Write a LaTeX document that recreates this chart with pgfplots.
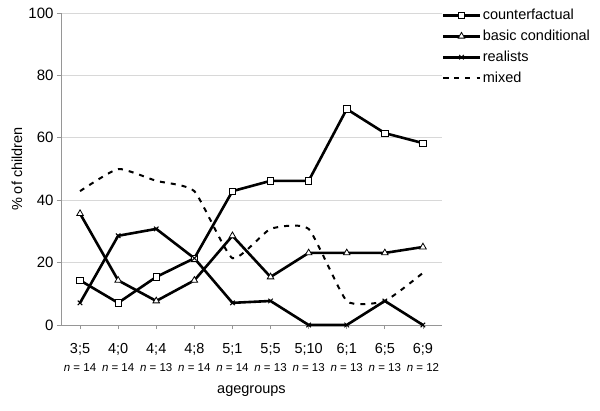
\documentclass[border=0pt]{standalone}
\usepackage{fontspec}
\setmainfont{Liberation Sans}
\usepackage{pgfplots}
\pgfplotsset{compat=1.18}
\definecolor{gridgray}{RGB}{216,216,216}
\definecolor{axisgray}{RGB}{150,150,150}
\newcommand{\nsz}[1]{{\fontsize{11.5}{13}\selectfont\textit{n} = #1}}

\begin{document}
\begin{tikzpicture}
\begin{axis}[
  scale only axis, width=381pt, height=312pt,
  xmin=-0.5, xmax=9.5, ymin=0, ymax=100,
  axis lines=left, axis line style={axisgray, line width=0.8pt, -},
  xtick={0,...,9}, ytick={0,20,...,100},
  xticklabels={{3;5\\\nsz{14}},{4;0\\\nsz{14}},{4;4\\\nsz{13}},{4;8\\\nsz{14}},{5;1\\\nsz{14}},
               {5;5\\\nsz{13}},{5;10\\\nsz{13}},{6;1\\\nsz{13}},{6;5\\\nsz{13}},{6;9\\\nsz{12}}},
  xticklabel style={align=center, font=\fontsize{14.5}{18}\selectfont, yshift=-11pt},
  yticklabel style={font=\fontsize{15}{17}\selectfont},
  /pgf/number format/assume math mode=true,
  ymajorgrids, grid style={gridgray, line width=0.8pt},
  tick style={axisgray, line width=0.8pt}, tick align=outside, major tick length=4pt,
  xlabel={agegroups}, ylabel={\% of children},
  every axis x label/.style={at={(rel axis cs:0.5,0)}, anchor=center, yshift=-66pt,
    font=\fontsize{14.5}{17}\selectfont},
  every axis y label/.style={at={(rel axis cs:0,0.5)}, anchor=center, rotate=90, yshift=44pt,
    font=\fontsize{14.5}{17}\selectfont},
  legend style={at={(rel axis cs:1,1)}, anchor=north west, xshift=0pt, yshift=6pt,
    draw=none, fill=none, font=\fontsize{14.5}{17}\selectfont, inner sep=0pt, row sep=5pt,
    cells={anchor=west}},
  legend image code/.code={\draw[mark repeat=2,mark phase=2,#1] plot coordinates {(0pt,0pt) (18pt,0pt) (36pt,0pt)};},
  clip=false,
]
\addplot[black, line width=2.6pt, mark=square*, mark size=3.2pt,
  mark options={solid, fill=white, line width=0.8pt}]
  coordinates {(0,14.3) (1,7.1) (2,15.4) (3,21.4) (4,42.9) (5,46.2) (6,46.2) (7,69.2) (8,61.5) (9,58.3)};
\addlegendentry{counterfactual}
\addplot[black, line width=2.6pt, mark=triangle*, mark size=3.8pt,
  mark options={solid, fill=white, line width=0.8pt}]
  coordinates {(0,35.7) (1,14.3) (2,7.7) (3,14.3) (4,28.6) (5,15.4) (6,23.1) (7,23.1) (8,23.1) (9,25.0)};
\addlegendentry{basic conditional}
\addplot[black, line width=2.6pt, mark=x, mark size=3.2pt,
  mark options={solid, line width=1pt}]
  coordinates {(0,7.1) (1,28.6) (2,30.8) (3,21.4) (4,7.1) (5,7.7) (6,0) (7,0) (8,7.7) (9,0)};
\addlegendentry{realists}
\addplot[black, line width=2pt, dash pattern=on 5pt off 6pt, smooth, tension=0.3]
  coordinates {(0,42.9) (1,50.0) (2,46.2) (3,42.9) (4,21.4) (5,30.8) (6,30.8) (7,7.7) (8,7.7) (9,16.7)};
\addlegendentry{mixed}
\end{axis}
\pgfresetboundingbox
\path[use as bounding box] (-61pt,-85pt) rectangle (539pt,325pt);
\end{tikzpicture}
\end{document}
